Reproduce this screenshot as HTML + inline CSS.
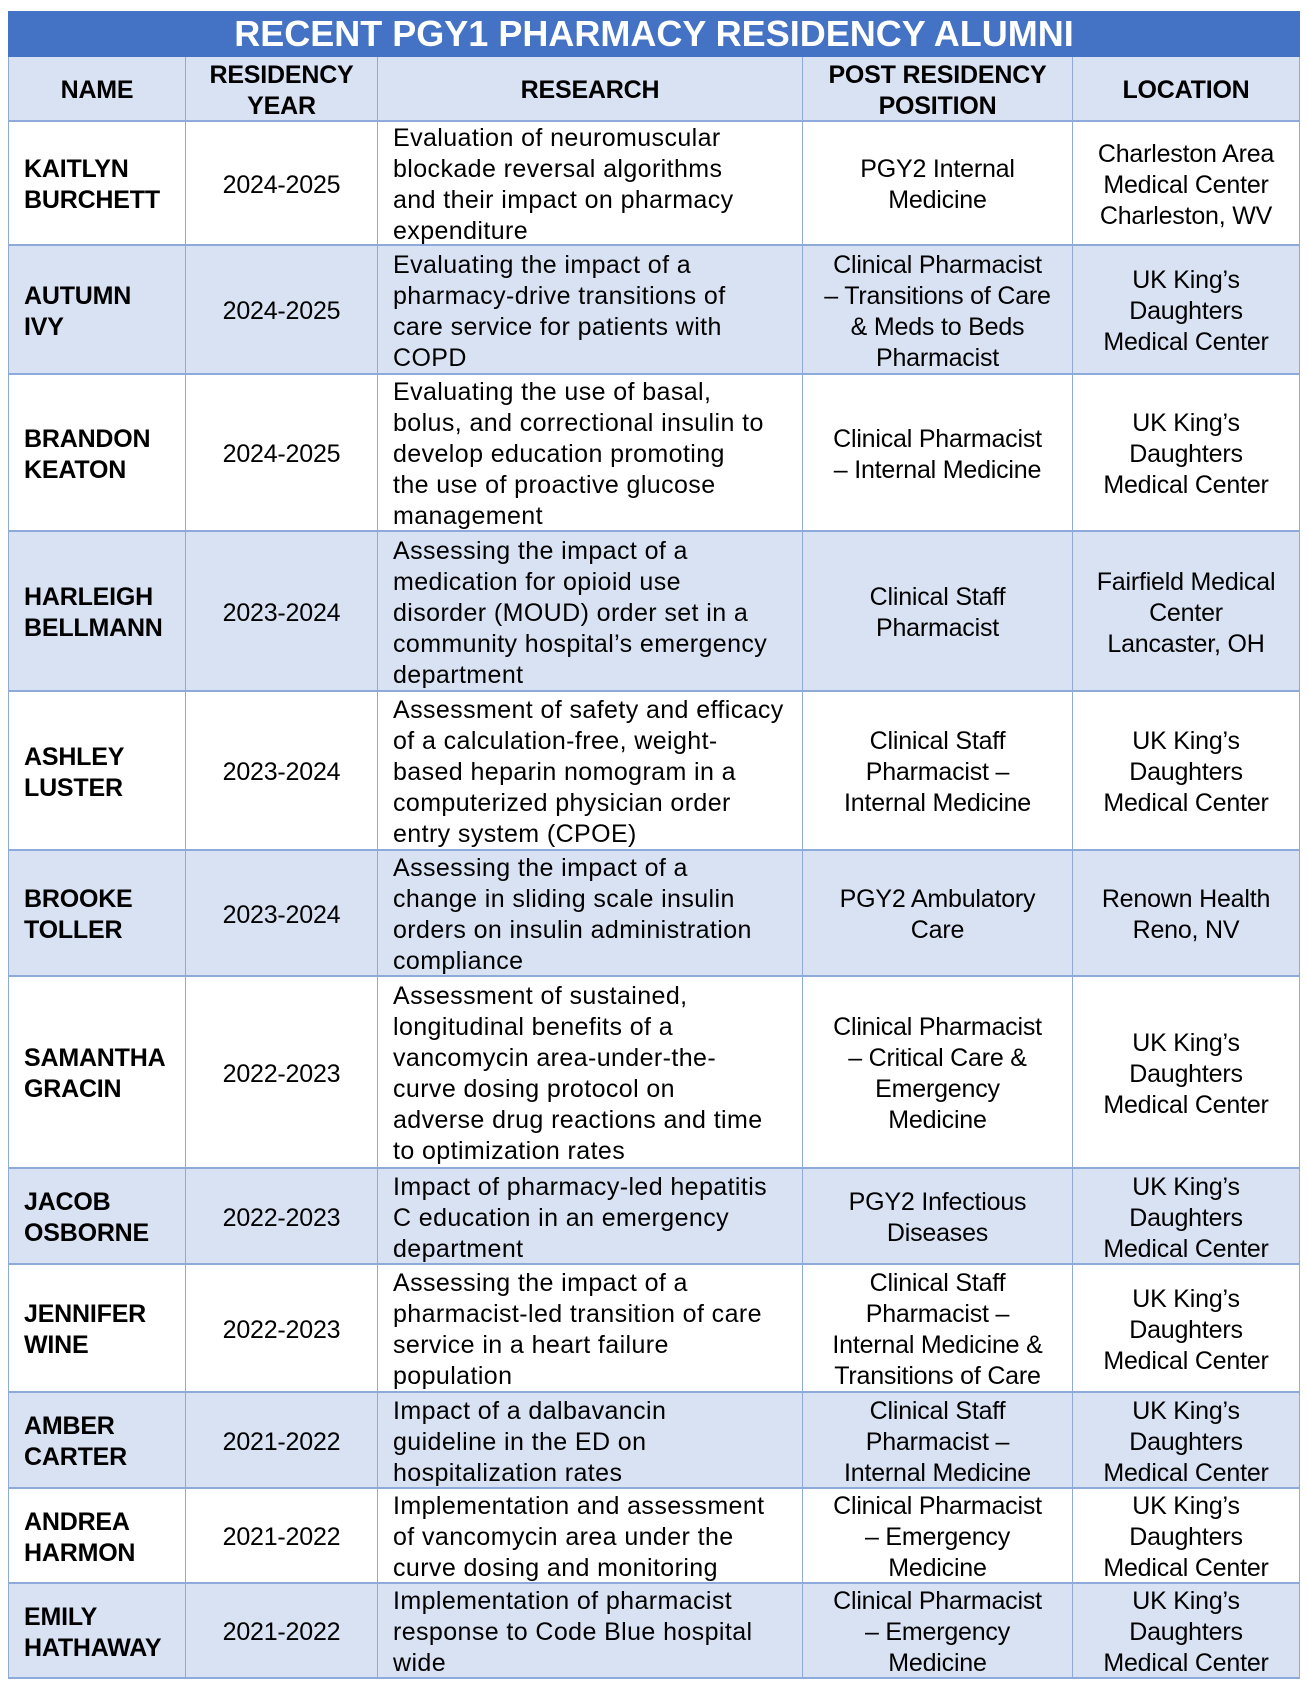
<!DOCTYPE html>
<html><head><meta charset="utf-8">
<style>
body{margin:0;width:1308px;height:1688px;background:#fff;position:relative;overflow:hidden;font-family:"Liberation Sans",sans-serif;}
.c{position:absolute;box-sizing:border-box;display:flex;align-items:center;justify-content:center;text-align:center;font-size:25px;line-height:31px;color:#000;border-right:1.5px solid #8eaadb;border-bottom:2.5px solid #8eaadb;overflow:visible;letter-spacing:-0.2px;padding-top:4px}
.l{justify-content:flex-start;text-align:left;padding-left:15px;padding-right:6px;letter-spacing:0.4px}
.b{font-weight:bold}
.nm{justify-content:flex-start;text-align:left;padding-left:15px;font-weight:bold}
</style></head><body>
<div style="position:absolute;left:8px;top:11px;width:1292px;height:46px;background:#4472c4;color:#fff;font-weight:bold;font-size:36px;display:flex;align-items:center;justify-content:center">RECENT PGY1 PHARMACY RESIDENCY ALUMNI</div>
<div id="t"></div>
<script>
const cols=[8,186,378,803,1073,1300];
const rowsY=[57,122,246,375,532,692,851,977,1169,1265,1393,1489,1584,1679];
const headers=["NAME","RESIDENCY<br>YEAR","RESEARCH","POST RESIDENCY<br>POSITION","LOCATION"];
const names=["KAITLYN<br>BURCHETT","AUTUMN<br>IVY","BRANDON<br>KEATON","HARLEIGH<br>BELLMANN","ASHLEY<br>LUSTER","BROOKE<br>TOLLER","SAMANTHA<br>GRACIN","JACOB<br>OSBORNE","JENNIFER<br>WINE","AMBER<br>CARTER","ANDREA<br>HARMON","EMILY<br>HATHAWAY"];
const years=["2024-2025","2024-2025","2024-2025","2023-2024","2023-2024","2023-2024","2022-2023","2022-2023","2022-2023","2021-2022","2021-2022","2021-2022"];
const research=["Evaluation of neuromuscular<br>blockade reversal algorithms<br>and their impact on pharmacy<br>expenditure",
"Evaluating the impact of a<br>pharmacy-drive transitions of<br>care service for patients with<br>COPD",
"Evaluating the use of basal,<br>bolus, and correctional insulin to<br>develop education promoting<br>the use of proactive glucose<br>management",
"Assessing the impact of a<br>medication for opioid use<br>disorder (MOUD) order set in a<br>community hospital’s emergency<br>department",
"Assessment of safety and efficacy<br>of a calculation-free, weight-<br>based heparin nomogram in a<br>computerized physician order<br>entry system (CPOE)",
"Assessing the impact of a<br>change in sliding scale insulin<br>orders on insulin administration<br>compliance",
"Assessment of sustained,<br>longitudinal benefits of a<br>vancomycin area-under-the-<br>curve dosing protocol on<br>adverse drug reactions and time<br>to optimization rates",
"Impact of pharmacy-led hepatitis<br>C education in an emergency<br>department",
"Assessing the impact of a<br>pharmacist-led transition of care<br>service in a heart failure<br>population",
"Impact of a dalbavancin<br>guideline in the ED on<br>hospitalization rates",
"Implementation and assessment<br>of vancomycin area under the<br>curve dosing and monitoring",
"Implementation of pharmacist<br>response to Code Blue hospital<br>wide"];
const positions=["PGY2 Internal<br>Medicine","Clinical Pharmacist<br>– Transitions of Care<br>&amp; Meds to Beds<br>Pharmacist","Clinical Pharmacist<br>– Internal Medicine","Clinical Staff<br>Pharmacist","Clinical Staff<br>Pharmacist –<br>Internal Medicine","PGY2 Ambulatory<br>Care","Clinical Pharmacist<br>– Critical Care &amp;<br>Emergency<br>Medicine","PGY2 Infectious<br>Diseases","Clinical Staff<br>Pharmacist –<br>Internal Medicine &amp;<br>Transitions of Care","Clinical Staff<br>Pharmacist –<br>Internal Medicine","Clinical Pharmacist<br>– Emergency<br>Medicine","Clinical Pharmacist<br>– Emergency<br>Medicine"];
const UKD="UK King’s<br>Daughters<br>Medical Center";
const locations=["Charleston Area<br>Medical Center<br>Charleston, WV",UKD,UKD,"Fairfield Medical<br>Center<br>Lancaster, OH",UKD,"Renown Health<br>Reno, NV",UKD,UKD,UKD,UKD,UKD,UKD];
const t=document.getElementById('t');
const colNames=["name","year","research","position","location"];
function cell(r,c,html,cls,bg){
  const d=document.createElement('div');
  d.className='c '+cls;
  d.style.left=cols[c]+'px';d.style.width=(cols[c+1]-cols[c])+'px';
  d.style.top=rowsY[r]+'px';d.style.height=(rowsY[r+1]-rowsY[r])+'px';
  d.style.background=bg;
  if(c===0)d.style.borderLeft='1.5px solid #8eaadb';
  d.innerHTML=html;
  t.appendChild(d);
  return d;
}
headers.forEach((h,c)=>{
  const d=cell(0,c,h,'b','#d9e2f3');
  
  
});
names.forEach((n,i)=>{
  const bg=i%2===0?'#ffffff':'#d9e2f3';
  const vals=[n,years[i],research[i],positions[i],locations[i]];
  const cls=['nm','','l','',''];
  vals.forEach((v,c)=>{
    const d=cell(i+1,c,v,cls[c],bg);
    
    
  });
});
</script>
</body></html>
